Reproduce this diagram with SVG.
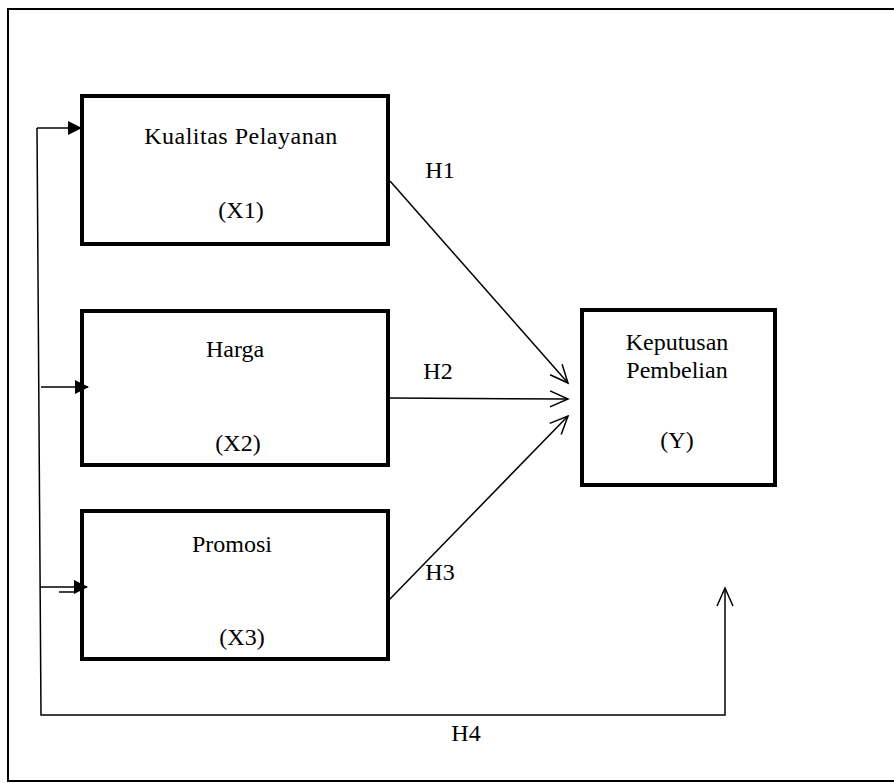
<svg xmlns="http://www.w3.org/2000/svg" width="894" height="783" viewBox="0 0 894 783">
<defs>
<marker id="fill" markerWidth="14" markerHeight="14" refX="13" refY="7" orient="auto" markerUnits="userSpaceOnUse">
<path d="M0,0 L14,7 L0,14 Z" fill="#000"/>
</marker>
<marker id="open" markerWidth="24" markerHeight="24" refX="22" refY="12" orient="auto" markerUnits="userSpaceOnUse">
<path d="M4,4 L22,12 L4,20" fill="none" stroke="#000" stroke-width="1.5"/>
</marker>
</defs>
<style>
.box{fill:#fff;stroke:#000;stroke-width:4}
.t{font-family:"Liberation Serif","Times New Roman",serif;font-size:24px;fill:#000;text-anchor:middle}
.c{fill:none;stroke:#000;stroke-width:1.5}
</style>
<rect x="0" y="0" width="894" height="783" fill="#fff"/>
<rect x="8" y="9" width="900" height="772" fill="none" stroke="#000" stroke-width="2"/>
<g id="x1">
<rect class="box" x="82" y="96" width="306" height="148"/>
<text class="t" x="241" y="144" letter-spacing="0.5">Kualitas Pelayanan</text>
<text class="t" x="241" y="218">(X1)</text>
</g>
<g id="x2">
<rect class="box" x="82" y="311" width="306" height="154"/>
<text class="t" x="235" y="357">Harga</text>
<text class="t" x="238" y="451">(X2)</text>
</g>
<g id="x3">
<rect class="box" x="82" y="511" width="306" height="148"/>
<text class="t" x="232" y="552">Promosi</text>
<text class="t" x="242" y="645">(X3)</text>
</g>
<g id="y">
<rect class="box" x="582" y="310" width="193" height="175"/>
<text class="t" x="677" y="350">Keputusan</text>
<text class="t" x="677" y="378">Pembelian</text>
<text class="t" x="677" y="448">(Y)</text>
</g>
<g id="connectors">
<path class="c" d="M37,128 L41,715 L725,715 L725,588" marker-end="url(#open)"/>
<line class="c" x1="37" y1="128" x2="81" y2="128" stroke-width="2.5" marker-end="url(#fill)"/>
<line class="c" x1="41" y1="387" x2="88" y2="387" stroke-width="2.5" marker-end="url(#fill)"/>
<line class="c" x1="40" y1="587" x2="87" y2="587" stroke-width="2.5" marker-end="url(#fill)"/>
<line class="c" x1="59" y1="592" x2="74" y2="592" stroke-width="2"/>
<line class="c" x1="390" y1="181" x2="568" y2="383" marker-end="url(#open)"/>
<line class="c" x1="390" y1="398" x2="568" y2="399" stroke-width="2" marker-end="url(#open)"/>
<line class="c" x1="389" y1="600" x2="568" y2="416" marker-end="url(#open)"/>
<text class="t" x="440" y="178">H1</text>
<text class="t" x="438" y="379">H2</text>
<text class="t" x="440" y="580">H3</text>
<text class="t" x="466" y="741">H4</text>
</g>
</svg>
